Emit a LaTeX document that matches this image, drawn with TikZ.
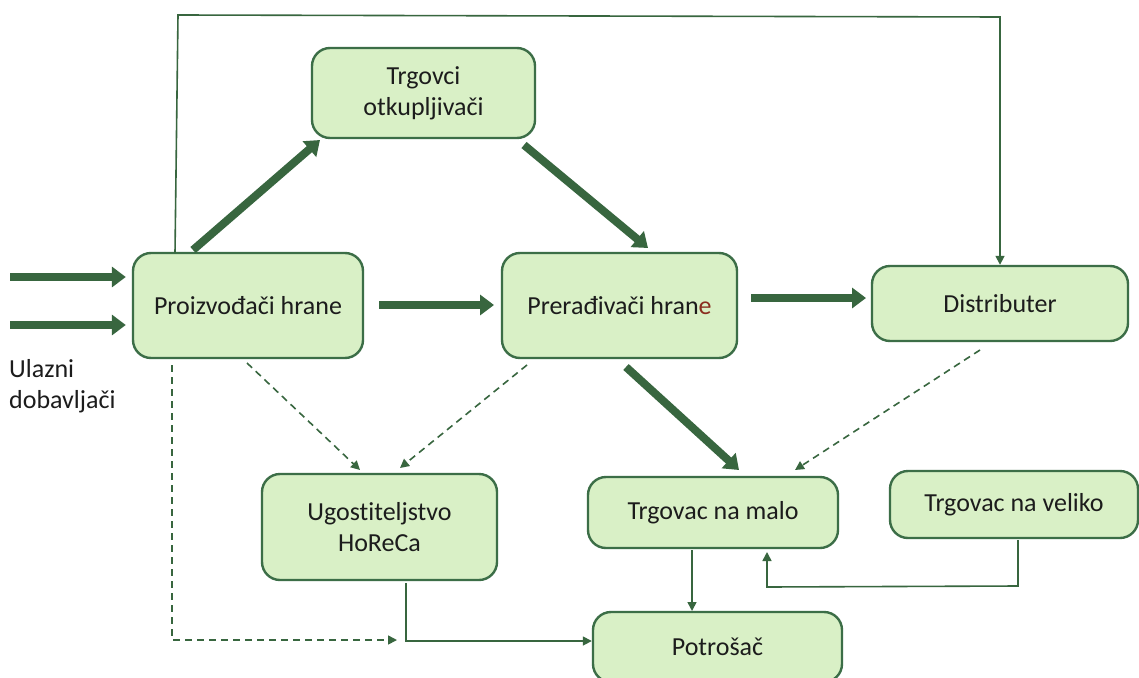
\documentclass[tikz,border=0pt]{standalone}
\usepackage{fontspec}
\setmainfont{Carlito}[Ligatures=NoCommon]
\usetikzlibrary{arrows.meta,calc}
\definecolor{boxfill}{HTML}{D9F0C6}
\definecolor{boxline}{HTML}{3C6E47}
\definecolor{arr}{HTML}{38663F}
\definecolor{txt}{HTML}{1C1C1C}
\definecolor{redish}{HTML}{8A2D1F}
\begin{document}
\begin{tikzpicture}[x=1pt,y=-1pt,
  box/.style={draw=boxline, line width=2.4pt, fill=boxfill, rounded corners=18pt,
    text=txt, font=\fontsize{26}{31}\selectfont, align=center, inner sep=0pt},
  bigarr/.style={line width=8pt, draw=arr, -{Triangle[width=20pt,length=14pt]}},
  thinarr/.style={line width=1.6pt, draw=arr, -{Triangle[width=9pt,length=9pt]}},
  dsharr/.style={thinarr, dash pattern=on 7pt off 5pt}]
\useasboundingbox (0,0) rectangle (1139,677);
\fill[white] (0,0) rectangle (1139,677);

% boxes
\node[box, minimum width=230pt, minimum height=105pt] (P) at (248,305.5) {Proizvođači hrane};
\node[box, minimum width=223pt, minimum height=90pt] (T) at (423.5,93) {Trgovci\\otkupljivači};
\node[box, minimum width=235pt, minimum height=105pt] (R) at (619.5,305.5) {Prerađivači hran\textcolor{redish}{e}};
\node[box, minimum width=256pt, minimum height=75pt] (D) at (1000,303.5) {Distributer};
\node[box, minimum width=235pt, minimum height=106pt] (U) at (379.5,527) {Ugostiteljstvo\\HoReCa};
\node[box, minimum width=250pt, minimum height=71pt] (M) at (713,512.5) {Trgovac na malo};
\node[box, minimum width=248pt, minimum height=67pt] (V) at (1014,504.5) {Trgovac na veliko};
\node[box, minimum width=249pt, minimum height=70pt] (C) at (717.5,647) {Potrošač};

% label
\node[anchor=west, align=left, text=txt, font=\fontsize{26}{31}\selectfont, inner sep=0pt] (L) at (9,386) {Ulazni\\dobavljači};

% inputs
\coordinate (i1) at (10,277);
\coordinate (i2) at (10,325);
\draw[bigarr, shorten >=6pt] (i1) -- (i1 -| P.west);
\draw[bigarr, shorten >=6pt] (i2) -- (i2 -| P.west);

% thick flows
\coordinate (pt1) at (193,250);
\coordinate (pt2) at (320,140);
\draw[bigarr] (pt1) -- (pt2);
\coordinate (tr1) at (524,145);
\coordinate (tr2) at (648,248);
\draw[bigarr] (tr1) -- (tr2);
\coordinate (pr1) at (379,305);
\coordinate (pr2) at (494,305);
\draw[bigarr] (pr1) -- (pr2);
\coordinate (rd1) at (751,298);
\coordinate (rd2) at (866,298);
\draw[bigarr] (rd1) -- (rd2);
\coordinate (rm1) at (626,367);
\coordinate (rm2) at (739,470);
\draw[bigarr] (rm1) -- (rm2);

% dashed flows
\coordinate (pu1) at (247,363);
\coordinate (pu2) at (360,470);
\draw[dsharr] (pu1) -- (pu2);
\coordinate (ru1) at (527,365);
\coordinate (ru2) at (400,468);
\draw[dsharr] (ru1) -- (ru2);
\coordinate (dm1) at (980,350);
\coordinate (dm2) at (795,470);
\draw[dsharr] (dm1) -- (dm2);
\coordinate (pc1) at (172,365);
\coordinate (pc2) at (172,640);
\coordinate (pc3) at (397,640);
\draw[dsharr] (pc1) -- (pc2) -- (pc3);

% thin solid flows
\coordinate (uc1) at (406,583);
\draw[thinarr] (uc1) -- (406,641) -- (C.west |- 0,641);
\coordinate (mc1) at (692,550);
\draw[thinarr] (mc1) -- (692 , 611);
\coordinate (vm1) at (1018,540);
\draw[thinarr] (vm1) -- (1018,586) -- (767,587) -- (767,552);
\coordinate (top1) at (175,253);
\draw[thinarr] (top1) -- (178,15) -- (1000,17) -- (D.north -| 1000,0);
\end{tikzpicture}
\end{document}
